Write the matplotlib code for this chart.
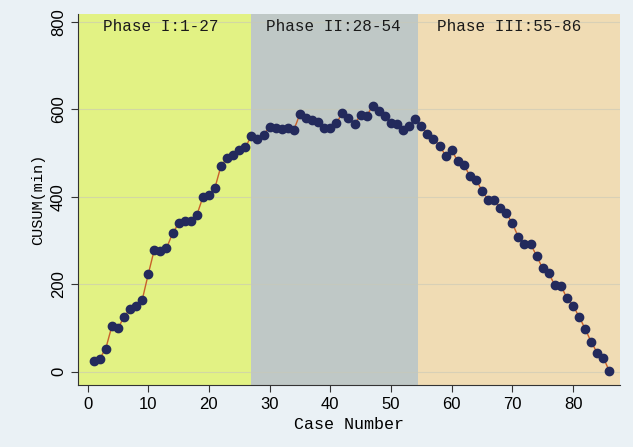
######################################################################
# CUSUM learning curve with three phases
######################################################################

import matplotlib
matplotlib.use("Agg")
import matplotlib.pyplot as plt

case = list(range(1, 87))
cusum = [24, 30, 53, 104, 99, 125, 144, 151, 164, 223,
         279, 276, 282, 316, 339, 344, 345, 358, 399, 404,
         421, 471, 488, 495, 507, 514, 538, 533, 542, 560,
         558, 555, 558, 553, 589, 581, 576, 570, 558, 557,
         568, 592, 581, 566, 587, 585, 608, 596, 585, 568,
         566, 553, 561, 577, 561, 543, 532, 517, 494, 507,
         481, 473, 448, 439, 414, 393, 392, 375, 363, 339,
         308, 293, 292, 265, 236, 225, 198, 197, 168, 151,
         126, 98, 68, 43, 32, 1]

phase_labels = ["Phase I:1-27", "Phase II:28-54", "Phase III:55-86"]
phase_edges = [-1.6, 27, 54.5, 87.8]
phase_colors = ["#e2f284", "#bfc8c6", "#f0dcb4"]
label_x = [12, 40.5, 69.5]

xticks = [0, 10, 20, 30, 40, 50, 60, 70, 80]
yticks = [0, 200, 400, 600, 800]

######################################################################
# draw
######################################################################

txtfont = "Liberation Mono"
plt.rcParams["font.family"] = "Liberation Sans"

fig = plt.figure(figsize = (6.33, 4.47), dpi = 100, facecolor = "#eaf1f5")
ax = fig.add_axes([0.123, 0.139, 0.857, 0.830])

for i in range(3):
    ax.axvspan(phase_edges[i], phase_edges[i + 1], color = phase_colors[i],
               lw = 0, zorder = 0)
    ax.text(label_x[i], 788, phase_labels[i], ha = "center", va = "center",
            fontsize = 11.5, family = txtfont, color = "#1a1a1a")

for yv in yticks:
    ax.axhline(yv, color = "#c8c8b8", lw = 0.8, alpha = 0.6, zorder = 1)

ax.plot(case, cusum, color = "#c8602a", lw = 1.0, zorder = 2)
ax.plot(case, cusum, "o", color = "#232a5c", ms = 6, zorder = 3)

ax.set_xlim(phase_edges[0], phase_edges[-1])
ax.set_ylim(-30, 818)
ax.set_xticks(xticks)
ax.set_yticks(yticks)
ax.set_yticklabels([str(v) for v in yticks], rotation = 90, va = "center")
ax.tick_params(labelsize = 12, length = 5, color = "#333333")

for s in ["top", "right"]:
    ax.spines[s].set_visible(False)
for s in ["left", "bottom"]:
    ax.spines[s].set_color("#333333")

ax.set_xlabel("Case Number", family = txtfont, fontsize = 12)
ax.set_ylabel("CUSUM(min)", family = txtfont, fontsize = 11)

fig.savefig("out.png", dpi = 100, facecolor = fig.get_facecolor())
